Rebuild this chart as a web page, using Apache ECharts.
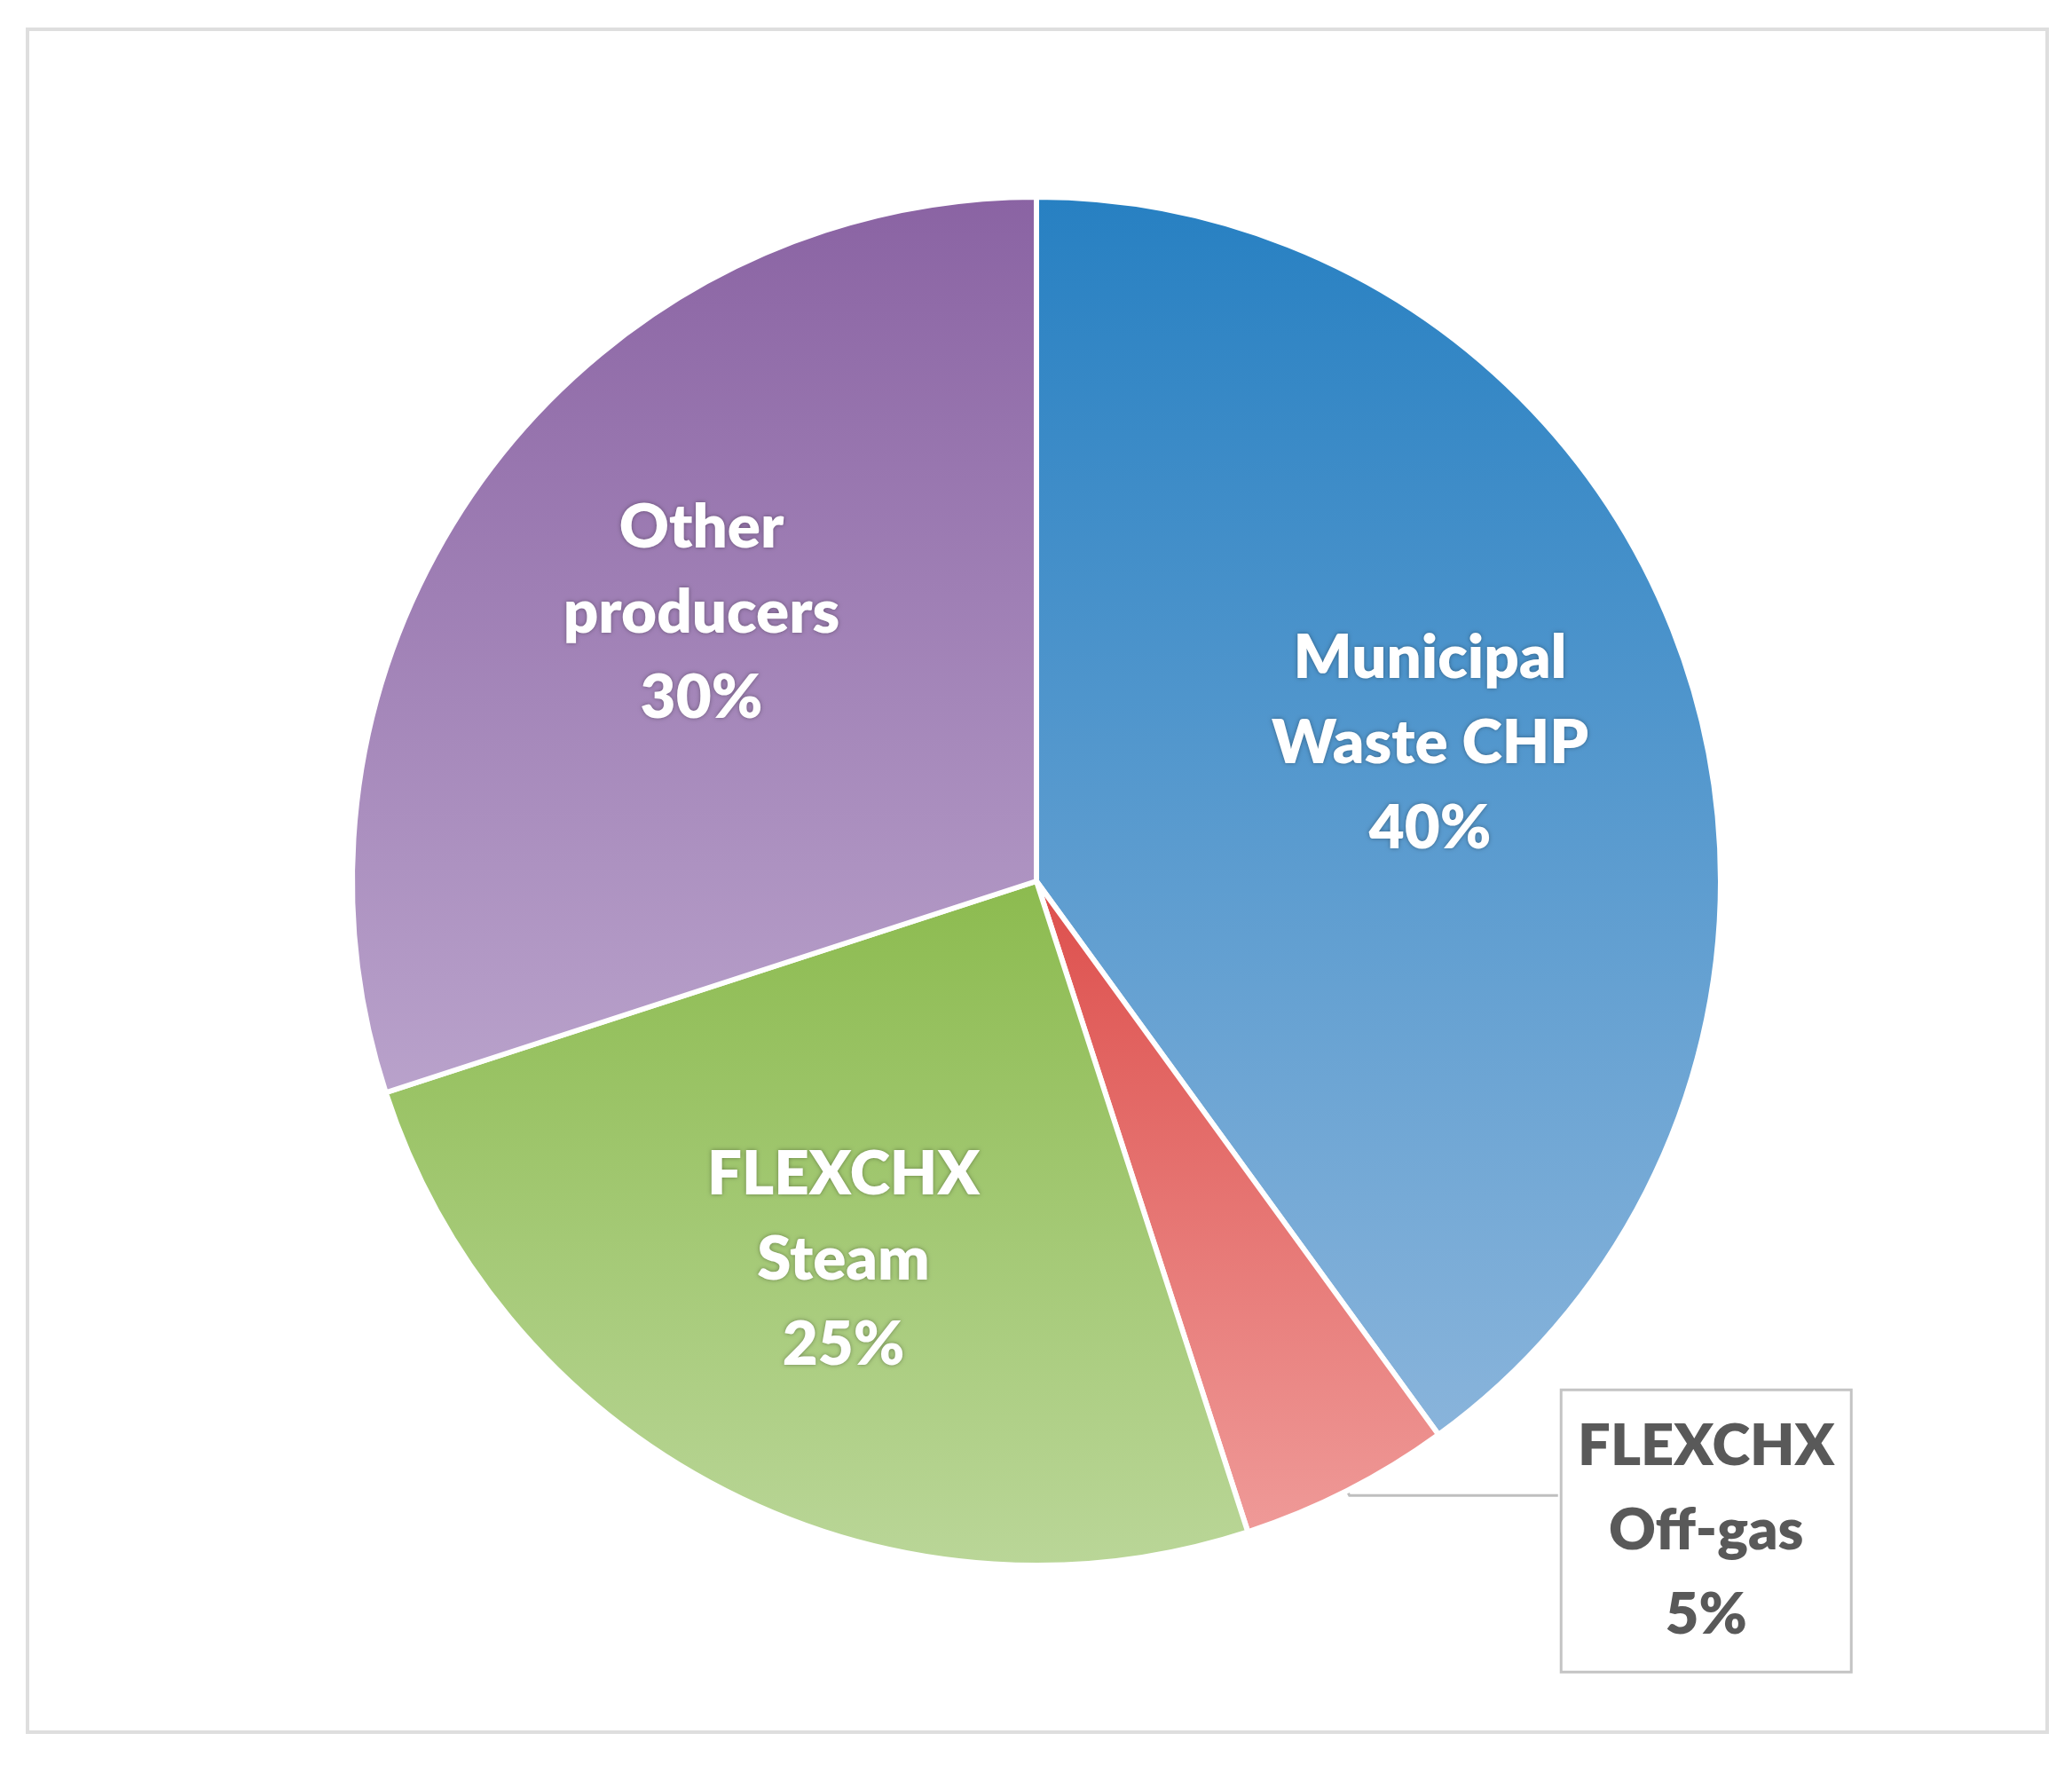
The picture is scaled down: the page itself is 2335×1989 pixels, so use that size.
<!DOCTYPE html>
<html>
<head>
<meta charset="utf-8">
<script src="https://cdn.jsdelivr.net/npm/echarts@6/dist/echarts.min.js"></script>
<style>
  html, body { margin: 0; padding: 0; background: #fff; }
  #main { width: 2335px; height: 1989px; }
</style>
</head>
<body>
<div id="main"></div>
<script>
// slices, clockwise from 12 o'clock
var categories = ['Municipal\nWaste CHP', 'FLEXCHX\nOff-gas', 'FLEXCHX\nSteam', 'Other\nproducers'];
var shares = [40, 5, 25, 30];
// gradient top / bottom colour per slice
var topColors = ['#2780c2', '#dd4f4c', '#8cbb4f', '#8a63a3'];
var bottomColors = ['#89b4db', '#ef9a98', '#bad698', '#b9a2cb'];

var myChart = echarts.init(document.getElementById('main'));

var fontName = 'Lato';
var labelShift = [[-12, -7], [0, 0], [0, 0], [10, -21]];   // small nudges to match the original placement

var pieData = [];
var labelData = [];
for (var i = 0; i < shares.length; i++) {
    var item = {
        name: categories[i],
        value: shares[i],
        itemStyle: {
            color: new echarts.graphic.LinearGradient(0, 0, 0, 1, [
                { offset: 0, color: topColors[i] },
                { offset: 1, color: bottomColors[i] }
            ])
        }
    };
    if (i === 1) {
        // small slice gets the boxed callout
        item.label = {
            show: true,
            position: 'outside',
            backgroundColor: '#fff',
            borderColor: '#c4c4c4',
            borderWidth: 3,
            padding: [15, 24, 15, 24],
            formatter: function (p) {
                var lines = (p.name + '\n' + p.percent + '%').split('\n');
                return lines.map(function (s) { return '{t|' + s + '}'; }).join('\n');
            },
            rich: {
                t: {
                    width: 276,
                    align: 'center',
                    color: '#595959',
                    fontFamily: fontName,
                    fontWeight: 800,
                    fontSize: 65,
                    lineHeight: 95
                }
            }
        };
        item.labelLine = {
            show: true,
            length: 6,
            length2: 235,
            lineStyle: { color: '#bfbfbf', width: 3 }
        };
    }
    pieData.push(item);
    labelData.push({
        name: categories[i],
        value: shares[i],
        label: { show: i !== 1, offset: labelShift[i] }
    });
}

var option = {
    animation: false,
    backgroundColor: '#fff',
    graphic: [{
        type: 'rect',
        shape: { x: 31, y: 33, width: 2276, height: 1919 },
        style: { fill: 'none', stroke: '#dedede', lineWidth: 4 },
        z: -10
    }],
    series: [
        {
            type: 'pie',
            center: [1168, 993],
            radius: [0, 771],
            startAngle: 90,
            avoidLabelOverlap: false,
            itemStyle: { borderColor: '#fff', borderWidth: 6 },
            label: { show: false },
            labelLine: { show: false },
            labelLayout: function (params) {
                if (params.dataIndex === 1) {
                    return { dy: 40 };
                }
            },
            emphasis: { disabled: true },
            data: pieData
        },
        {
            // transparent twin used only to place the inside labels further out
            type: 'pie',
            center: [1168, 993],
            radius: [0, 952],
            startAngle: 90,
            silent: true,
            avoidLabelOverlap: false,
            itemStyle: { color: 'rgba(0,0,0,0)', borderWidth: 0 },
            label: {
                position: 'inside',
                color: '#fff',
                fontFamily: fontName,
                fontWeight: 800,
                fontSize: 69,
                lineHeight: 96,
                textShadowColor: 'rgba(0,0,0,0.35)',
                textShadowBlur: 5,
                formatter: '{b}\n{d}%'
            },
            labelLine: { show: false },
            emphasis: { disabled: true },
            data: labelData
        }
    ]
};
myChart.setOption(option);
</script>
</body>
</html>
